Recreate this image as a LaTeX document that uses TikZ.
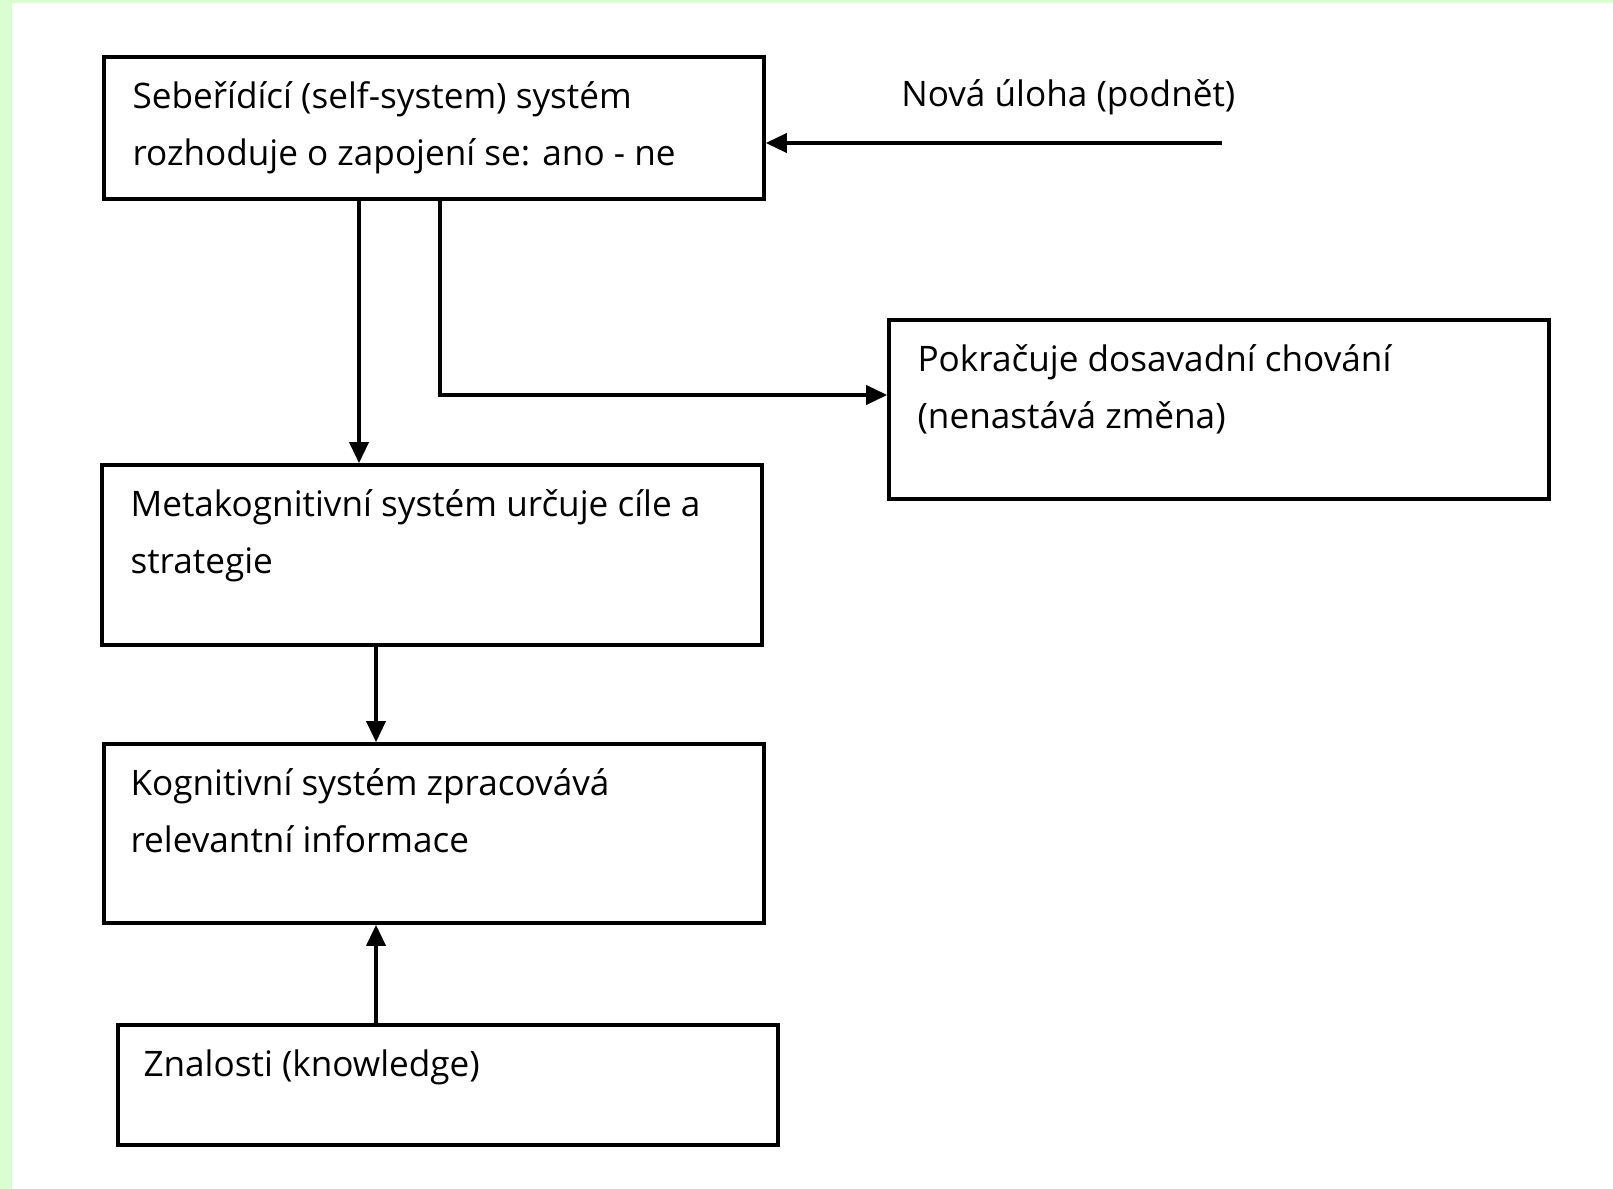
\documentclass[tikz,border=0pt]{standalone}
\usepackage{fontspec}
\setmainfont{Open Sans}
\usetikzlibrary{calc,positioning,arrows.meta}
\definecolor{rand}{HTML}{DAFED2}
\tikzset{
  % box styles
  % gebruik: \node[vak] (naam) at (x,y) {};  tekst los erin met \node[tekst]
  vak/.style={draw,line width=2.1pt,inner sep=0pt,minimum width=13.2cm},
  % base west = basislijn van de laatste regel
  tekst/.style={inner sep=0pt,align=left,anchor=base west,
    font=\fontsize{20pt}{32.4pt}\selectfont},
  % connectors
  pijl/.style={line width=2.1pt,-{Triangle[length=0.42cm,width=0.38cm]}},
}
\begin{document}
\begin{tikzpicture}[x=0.02cm,y=-0.02cm]
  \fill[rand] (0,0) rectangle (1613,1189);
  \fill[white] (12,3) rectangle (1613,1189);
  \useasboundingbox (0,0) rectangle (1613,1189);
  \node[vak,minimum height=2.84cm] (self) at (434,128) {};
  \node[vak,minimum height=3.58cm] (dal) at (1219,409.5) {};
  \node[vak,minimum height=3.6cm] (meta) at (432,555) {};
  \node[vak,minimum height=3.58cm] (kog) at (434,833.5) {};
  \node[vak,minimum height=2.4cm] (zn) at (448,1085) {};
  \node[tekst] (tself) at ([shift={(0.6cm,-2.2cm)}]self.north west) {Sebeřídící (self-system) systém\\rozhoduje o zapojení se: ano - ne};
  \node[tekst] (tdal) at ([shift={(0.6cm,-2.2cm)}]dal.north west) {Pokračuje dosavadní chování\\(nenastává změna)};
  \node[tekst] (tmeta) at ([shift={(0.6cm,-2.2cm)}]meta.north west) {Metakognitivní systém určuje cíle a\\strategie};
  \node[tekst] (tkog) at ([shift={(0.56cm,-2.2cm)}]kog.north west) {Kognitivní systém zpracovává\\relevantní informace};
  \node[tekst] (tzn) at ([shift={(0.54cm,-1.06cm)}]zn.north west) {Znalosti (knowledge)};
  \node[tekst] (uloha) at (901,107) {Nová úloha (podnět)};
  \coordinate (bron) at (1222,143);
  \draw[pijl] (bron) -- (bron -| self.east);
  \draw[pijl] ([xshift=-1.5cm]self.south) -- ([xshift=-1.5cm]self.south |- meta.north);
  \draw[pijl] ([xshift=0.12cm]self.south) |- ([yshift=0.29cm]dal.west);
  \draw[pijl] ([xshift=-1.12cm]meta.south) -- ([xshift=-1.12cm]meta.south |- kog.north);
  \draw[pijl] ([xshift=-1.44cm]zn.north) -- ([xshift=-1.44cm]zn.north |- kog.south);
\end{tikzpicture}
\end{document}
